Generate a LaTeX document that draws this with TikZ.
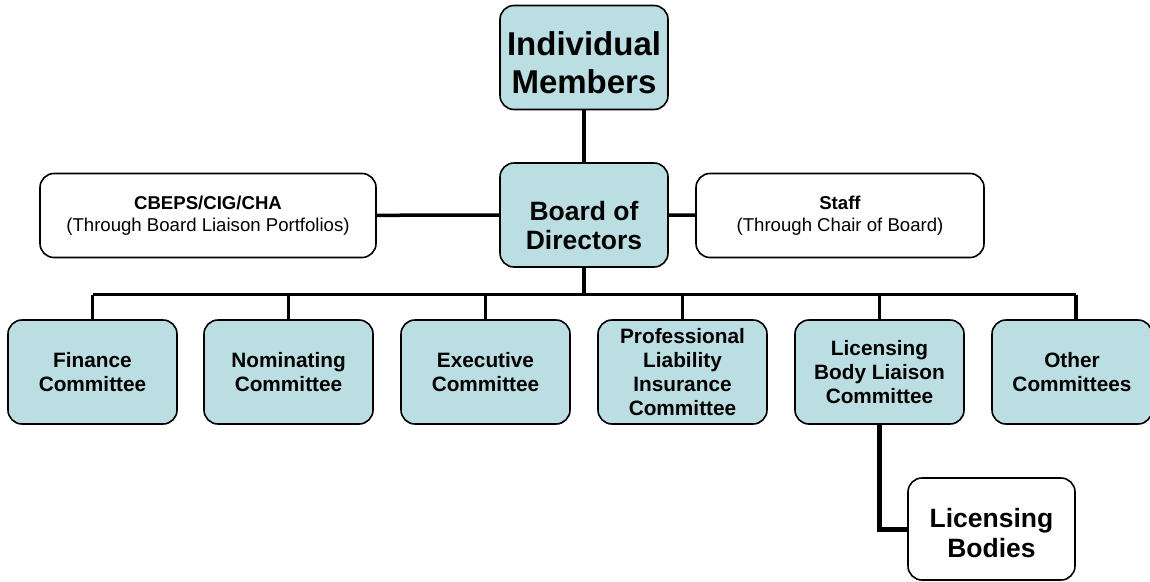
\documentclass[tikz,border=0pt]{standalone}
\usepackage{fontspec}
\setmainfont{Liberation Sans}
\definecolor{boxblue}{RGB}{186,222,225}
\tikzset{
  box/.style={draw=black, line width=1.6pt, rounded corners=14pt, align=center,
    inner sep=0pt, minimum width=169pt, minimum height=104pt},
  bluebox/.style={box, fill=boxblue},
  whitebox/.style={box, fill=white},
  comm/.style={bluebox, font=\fontsize{20.8}{24}\selectfont\bfseries},
  txt/.style={align=center, inner sep=0pt},
  link/.style={line width=3.5pt}
}
\begin{document}
\begin{tikzpicture}[x=1pt,y=-1pt]
    \useasboundingbox (0,0) rectangle (1150,581);
    % top of the tree
    \node[bluebox, minimum width=168pt,
      label={[txt, yshift=-5pt, font=\fontsize{33}{38}\selectfont\bfseries]center:Individual\\Members}] (im) at (584,57.5) {};
    \node[bluebox, minimum width=168pt,
      label={[txt, yshift=-11pt, font=\fontsize{26.5}{29}\selectfont\bfseries]center:Board of\\Directors}] (bod) at (584,215) {};
    \node[whitebox, minimum width=336pt, minimum height=84pt, font=\fontsize{18.6}{22.5}\selectfont] (cbeps) at (208,215.5) {\textbf{CBEPS/CIG/CHA}\\(Through Board Liaison Portfolios)};
    \node[whitebox, minimum width=288pt, minimum height=84pt, font=\fontsize{18.6}{22.5}\selectfont] (staff) at (840,215.5) {\textbf{Staff}\\(Through Chair of Board)};
    \draw[link] (im) -- (bod);
    \draw[link] (cbeps) -- (bod);
    \draw[link] (bod) -- (staff);
    % committees
    \node[comm] (fin) at (92.5,372) {Finance\\Committee};
    \node[comm] (nom) at (288.5,372) {Nominating\\Committee};
    \node[comm] (exe) at (485.5,372) {Executive\\Committee};
    \node[comm] (pli) at (682.5,372) {Professional\\Liability\\Insurance\\Committee};
    \node[comm] (lic) at (879.5,372) {Licensing\\Body Liaison\\Committee};
    \node[comm, minimum width=160pt] (oth) at (1072,372) {Other\\Committees};
    \coordinate (busL) at (92.5,294.5);
    \coordinate (busR) at (1076,294.5);
    \draw[link] (busL) -- (busR);
    \draw[link] (bod) -- (bod |- busL);
    \foreach \c in {fin,nom,exe,pli,lic}
        \draw[link] (\c.north) -- (\c.north |- busL);
    \draw[link] (busR) -- (busR |- oth.north);
    % licensing bodies
    \node[whitebox, minimum width=167pt, minimum height=102pt,
      label={[txt, yshift=-4pt, font=\fontsize{26.5}{30}\selectfont\bfseries]center:Licensing\\Bodies}] (lb) at (991.5,529) {};
    \draw[line width=5pt] (lic.south) |- (lb.west);
\end{tikzpicture}
\end{document}
